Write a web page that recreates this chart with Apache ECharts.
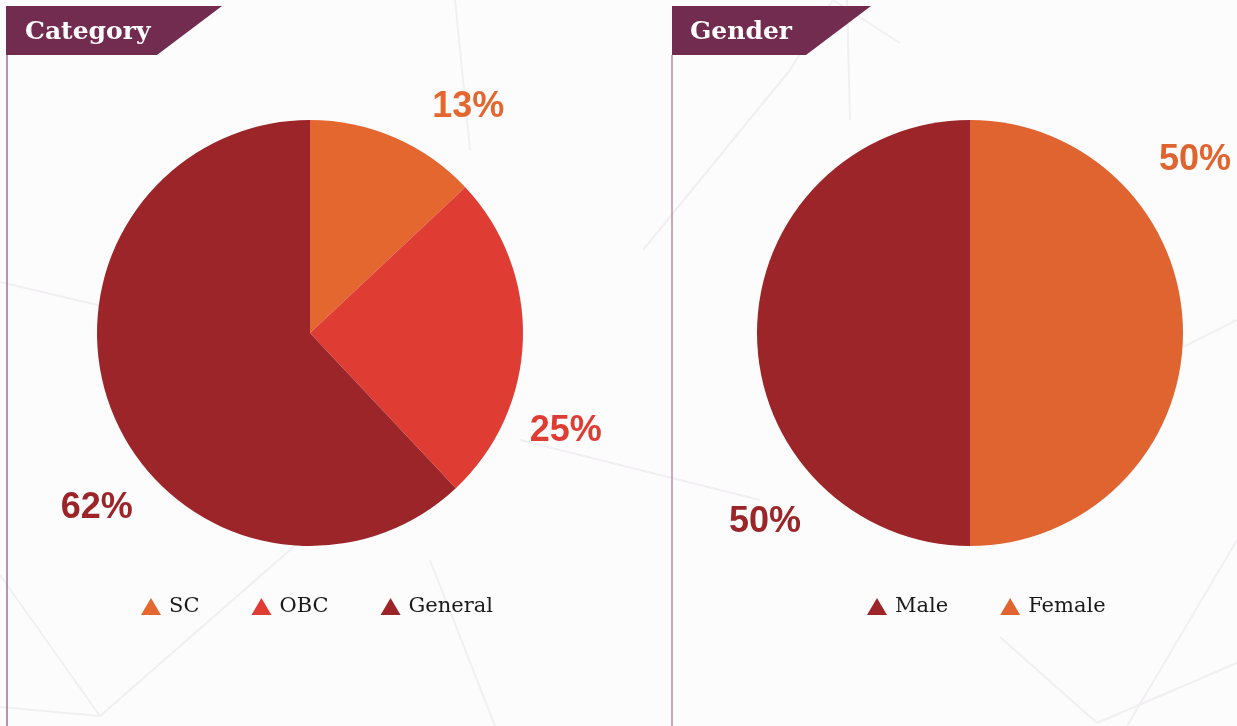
<!DOCTYPE html>
<html>
<head>
<meta charset="utf-8">
<title>Category and Gender</title>
<script src="https://cdn.jsdelivr.net/npm/echarts@6/dist/echarts.min.js"></script>
<style>
  html, body { margin: 0; padding: 0; background: #fdfcfd; }
  #chart { width: 1237px; height: 726px; }
</style>
</head>
<body>
<div id="chart"></div>
<script>
// data
const categoryNames = ['SC', 'OBC', 'General']
const categoryValues = [13, 25, 62]
const categoryColors = ['#e4672f', '#df3d34', '#9b2529']

const genderNames = ['Male', 'Female']
const genderValues = [50, 50]
const genderColors = ['#9b2529', '#e0642f']

// where the percent labels sit round each pie (degrees, distance in px)
const categoryLabelAngles = [55, -21, -140.6]
const genderLabelAngles = [-137.3, 37.6]
const categoryLabelDist = [276, 274, 276]
const genderLabelDist = [279, 284]

const pieRadius = 213
const leftCenter = [310, 333]
const rightCenter = [970, 333]

const chart = echarts.init(document.getElementById('chart'))

function placeLabel (center, angles, dists) {
  return function (p) {
    const a = angles[p.dataIndex] * Math.PI / 180
    const d = dists[p.dataIndex]
    return {
      x: center[0] + d * Math.cos(a),
      y: center[1] - d * Math.sin(a),
      align: 'center',
      verticalAlign: 'middle',
      hideOverlap: false,
      moveOverlap: null
    }
  }
}

function pieData (names, values, colors) {
  return names.map((n, i) => ({
    name: n,
    value: values[i],
    itemStyle: { color: colors[i] },
    label: { color: colors[i] }
  }))
}

const labelStyle = {
  show: true,
  position: 'outside',
  formatter: '{c}%',
  overflow: 'none',
  fontFamily: 'Liberation Sans',
  fontWeight: 'bold',
  fontSize: 36
}

const legendText = {
  fontFamily: 'DejaVu Serif',
  fontSize: 21,
  lineHeight: 21,
  color: '#1a1a1a',
  padding: [0, 0, 0, 3]
}

// faint background lines
const bgLines = [
  [[0, 282], [330, 360]],
  [[0, 575], [100, 716]],
  [[0, 707], [100, 716]],
  [[100, 716], [330, 515]],
  [[430, 560], [495, 726]],
  [[455, 0], [470, 150]],
  [[643, 250], [790, 70]],
  [[790, 70], [833, 0]],
  [[833, 0], [900, 43]],
  [[847, 0], [850, 120]],
  [[1183, 347], [1237, 320]],
  [[1000, 637], [1097, 723]],
  [[1097, 723], [1237, 663]],
  [[1127, 726], [1237, 540]],
  [[520, 440], [760, 500]]
]

const decor = bgLines.map(l => ({
  type: 'line',
  z: -10,
  silent: true,
  shape: { x1: l[0][0], y1: l[0][1], x2: l[1][0], y2: l[1][1] },
  style: { stroke: '#f1eff1', lineWidth: 2 }
}))

decor.push(
  { type: 'line', shape: { x1: 7, y1: 55, x2: 7, y2: 726 }, style: { stroke: '#a56f92', lineWidth: 1.5 } },
  { type: 'line', shape: { x1: 672, y1: 55, x2: 672, y2: 726 }, style: { stroke: '#b58da6', lineWidth: 1.5 } },
  { type: 'polygon', shape: { points: [[6, 6], [222, 6], [157, 55], [6, 55]] }, style: { fill: '#722c4f' } },
  { type: 'polygon', shape: { points: [[672, 6], [871, 6], [806, 55], [672, 55]] }, style: { fill: '#722c4f' } },
  { type: 'text', x: 25, y: 32, style: { text: 'Category', fill: '#ffffff', font: 'bold 25px "DejaVu Serif"', verticalAlign: 'middle' } },
  { type: 'text', x: 690, y: 32, style: { text: 'Gender', fill: '#ffffff', font: 'bold 25px "DejaVu Serif"', verticalAlign: 'middle' } }
)

const option = {
  backgroundColor: '#fdfcfd',
  animation: false,
  legend: [
    {
      data: categoryNames,
      left: 136,
      top: 591,
      icon: 'triangle',
      itemWidth: 20,
      itemHeight: 17,
      itemGap: 52,
      textStyle: legendText
    },
    {
      data: genderNames,
      left: 862,
      top: 591,
      icon: 'triangle',
      itemWidth: 20,
      itemHeight: 17,
      itemGap: 52,
      textStyle: legendText
    }
  ],
  graphic: decor,
  series: [
    {
      name: 'Category',
      type: 'pie',
      center: leftCenter,
      radius: pieRadius,
      startAngle: 90,
      clockwise: true,
      avoidLabelOverlap: false,
      data: pieData(categoryNames, categoryValues, categoryColors),
      label: labelStyle,
      labelLine: { show: false },
      labelLayout: placeLabel(leftCenter, categoryLabelAngles, categoryLabelDist),
      emphasis: { disabled: true }
    },
    {
      name: 'Gender',
      type: 'pie',
      center: rightCenter,
      radius: pieRadius,
      startAngle: 270,
      clockwise: true,
      avoidLabelOverlap: false,
      data: pieData(genderNames, genderValues, genderColors),
      label: labelStyle,
      labelLine: { show: false },
      labelLayout: placeLabel(rightCenter, genderLabelAngles, genderLabelDist),
      emphasis: { disabled: true }
    }
  ]
}

chart.setOption(option)
window.addEventListener('resize', () => chart.resize())
</script>
</body>
</html>
